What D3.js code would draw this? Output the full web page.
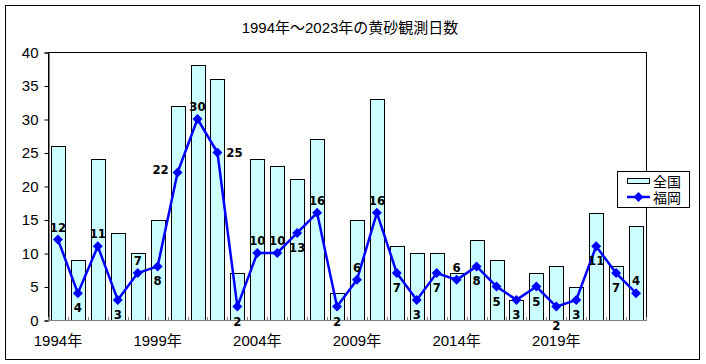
<!DOCTYPE html>
<html>
<head>
<meta charset="utf-8">
<script src="https://cdn.jsdelivr.net/npm/d3@7"></script>
<style>
  body { margin: 0; background: #fff; }
  svg text { font-family: "Liberation Sans", "Noto Sans CJK JP", sans-serif; }
  .lbl { font-family: "Liberation Sans Narrow", "DejaVu Sans Condensed", sans-serif !important; font-weight: bold; }
</style>
</head>
<body>
<svg width="706" height="364"></svg>
<script>
// données
let annees = d3.range(1994, 2024);
let zenkoku = [26, 9, 24, 13, 10, 15, 32, 38, 36, 7, 24, 23, 21, 27, 4, 15, 33, 11, 10, 10, 7, 12, 9, 3, 7, 8, 5, 16, 8, 14];
let fukuoka = [12, 4, 11, 3, 7, 8, 22, 30, 25, 2, 10, 10, 13, 16, 2, 6, 16, 7, 3, 7, 6, 8, 5, 3, 5, 2, 3, 11, 7, 4];
// où poser l'étiquette : t = dessus, b = dessous, B = plus bas, l = gauche, r = droite
let placement = ["t", "b", "t", "b", "t", "b", "l", "t", "r", "b", "t", "t", "b", "t", "b", "t", "t", "b", "b", "b", "t", "b", "b", "b", "b", "B", "b", "b", "b", "t"];
let yTicks = [0, 5, 10, 15, 20, 25, 30, 35, 40];
let xLabels = [1994, 1999, 2004, 2009, 2014, 2019];
let titre = "1994年～2023年の黄砂観測日数";

let svg = d3.select("svg");

// cadre extérieur
svg.append("rect")
    .attr("x", 5.5).attr("y", 5.5)
    .attr("width", 694).attr("height", 354)
    .attr("fill", "white").attr("stroke", "black");

svg.append("text")
    .attr("x", 350).attr("y", 33)
    .attr("text-anchor", "middle")
    .style("font-size", "15px")
    .text(titre);

let gauche = 48, droite = 646, haut = 52, bas = 320;

let x = d3.scaleBand().domain(annees).range([gauche, droite]).paddingInner(0.3).paddingOuter(0.15);
let xc = d => x(d) + x.bandwidth() / 2;
let y = d3.scaleLinear().domain([0, 40]).range([bas, haut]);

// zone du graphique
svg.append("rect")
    .attr("x", gauche + 0.5).attr("y", haut + 0.5)
    .attr("width", droite - gauche).attr("height", bas - haut)
    .attr("fill", "white").attr("stroke", "black");

// barres
svg.append("g").selectAll("rect")
    .data(zenkoku)
    .join("rect")
    .attr("x", (d, i) => Math.round(x(annees[i])) + 0.5)
    .attr("y", d => Math.round(y(d)) + 0.5)
    .attr("width", Math.round(x.bandwidth()))
    .attr("height", d => Math.round(y(0)) - Math.round(y(d)))
    .attr("fill", "#CCFFFF")
    .attr("stroke", "black");

// axe y
let ay = svg.append("g")
    .attr("transform", `translate(${gauche + 0.5},0.5)`)
    .call(d3.axisLeft(y).tickValues(yTicks).tickSize(4).tickPadding(6));
ay.select(".domain").attr("stroke", "black");
ay.selectAll("text").style("font-size", "15px").attr("fill", "black").attr("font-family", null);

// axe x (gris, petites graduations entre les catégories)
let pas = (droite - gauche) / annees.length;
let ax = svg.append("g");
ax.append("line")
    .attr("x1", gauche).attr("x2", droite + 1)
    .attr("y1", bas + 0.5).attr("y2", bas + 0.5)
    .attr("stroke", "#808080");
ax.selectAll("line.tick")
    .data(d3.range(annees.length + 1))
    .join("line")
    .attr("class", "tick")
    .attr("x1", i => Math.round(gauche + i * pas) + 0.5)
    .attr("x2", i => Math.round(gauche + i * pas) + 0.5)
    .attr("y1", bas - 3)
    .attr("y2", bas)
    .attr("stroke", "#808080");
ax.selectAll("text")
    .data(xLabels)
    .join("text")
    .attr("x", d => xc(d))
    .attr("y", bas + 26)
    .attr("text-anchor", "middle")
    .style("font-size", "15px")
    .text(d => d + "年");

// ligne Fukuoka
let ligne = d3.line().x((d, i) => xc(annees[i])).y(d => y(d));
svg.append("path")
    .datum(fukuoka)
    .attr("d", ligne)
    .attr("fill", "none")
    .attr("stroke", "#0000FF")
    .attr("stroke-width", 2.5);

// losange carré (demi-diagonale 5)
let losange = "M0,-5L5,0L0,5L-5,0Z";
svg.append("g").selectAll("path")
    .data(fukuoka)
    .join("path")
    .attr("transform", (d, i) => `translate(${xc(annees[i])},${y(d)})`)
    .attr("d", losange)
    .attr("fill", "#0000FF");

// étiquettes
let decal = { t: [0, -8], b: [0, 19], B: [0, 23], l: [-17, 1], r: [17, 4] };
svg.append("g").selectAll("text")
    .data(fukuoka)
    .join("text")
    .attr("class", "lbl")
    .attr("x", (d, i) => xc(annees[i]) + decal[placement[i]][0])
    .attr("y", (d, i) => y(d) + decal[placement[i]][1])
    .attr("text-anchor", "middle")
    .style("font-size", "13px")
    .text(d => d);

// légende
let lg = svg.append("g").attr("transform", "translate(617,171)");
lg.append("rect")
    .attr("x", 0.5).attr("y", 0.5)
    .attr("width", 72).attr("height", 36)
    .attr("fill", "white").attr("stroke", "black");
lg.append("rect")
    .attr("x", 10.5).attr("y", 7.5)
    .attr("width", 22).attr("height", 5)
    .attr("fill", "#CCFFFF").attr("stroke", "black");
lg.append("text").attr("x", 36).attr("y", 16).style("font-size", "14px").text("全国");
lg.append("line")
    .attr("x1", 10).attr("x2", 33)
    .attr("y1", 26).attr("y2", 26)
    .attr("stroke", "#0000FF").attr("stroke-width", 2.5);
lg.append("path")
    .attr("transform", "translate(21.5,26)")
    .attr("d", losange)
    .attr("fill", "#0000FF");
lg.append("text").attr("x", 36).attr("y", 32).style("font-size", "14px").text("福岡");
</script>
</body>
</html>
